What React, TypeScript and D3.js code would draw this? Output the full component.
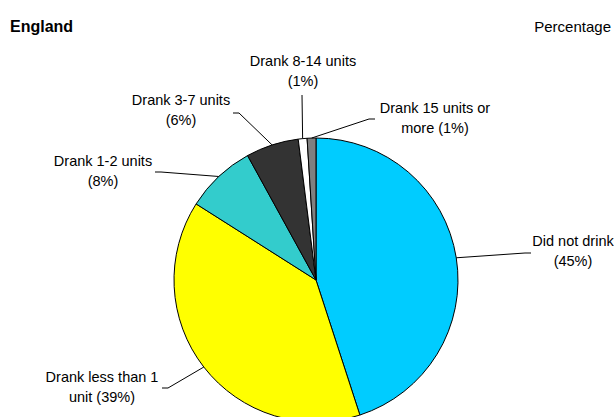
import React from "react";
import * as d3 from "d3";

// Drinking categories, in clockwise order from 12 o'clock
const categories = [
  "Did not drink",
  "Drank less than 1 unit",
  "Drank 1-2 units",
  "Drank 3-7 units",
  "Drank 8-14 units",
  "Drank 15 units or more",
];
const percentages = [45, 39, 8, 6, 1, 1];

// Label text split into the two lines it is printed on
const labelLines = [
  ["Did not drink", "(45%)"],
  ["Drank less than 1", "unit (39%)"],
  ["Drank 1-2 units", "(8%)"],
  ["Drank 3-7 units", "(6%)"],
  ["Drank 8-14 units", "(1%)"],
  ["Drank 15 units or", "more (1%)"],
];

const sliceColors = ["#00CCFF", "#FFFF00", "#33CCCC", "#333333", "#FFFFFF", "#808080"];

// Label placement: text centre x, first baseline y, and leader start point
const labelLayout = [
  { x: 573, y: 246, lx: 531, ly: 253, dir: -1 },
  { x: 102, y: 382, lx: 162, ly: 388, dir: 1 },
  { x: 103, y: 166, lx: 155, ly: 172, dir: 1 },
  { x: 181, y: 105, lx: 233, ly: 113, dir: 1 },
  { x: 303, y: 66, lx: 302, ly: 95, dir: 0 },
  { x: 435, y: 113, lx: 375, ly: 119, dir: -1 },
];

const WIDTH = 614;
const HEIGHT = 417;
const CX = 316;
const CY = 280;
const R = 142;
const FONT = "'Liberation Sans', Arial, sans-serif";

export default function App() {
  const pie = d3
    .pie<number>()
    .sort(null)
    .startAngle(0)
    .endAngle(2 * Math.PI)
    .value((d) => d);
  const arcs = pie(percentages);
  const arcGen = d3.arc<d3.PieArcDatum<number>>().innerRadius(0).outerRadius(R);
  const edgeGen = d3.arc<d3.PieArcDatum<number>>().innerRadius(R).outerRadius(R);

  return (
    <svg
      width={WIDTH}
      height={HEIGHT}
      style={{ position: "absolute", left: 0, top: 0, background: "#fff" }}
      fontFamily={FONT}
    >
      <text x={10} y={31.5} fontSize={16} fontWeight="bold" fill="#000">
        England
      </text>
      <text x={611} y={31.5} fontSize={15} textAnchor="end" fill="#000">
        Percentage
      </text>

      <g transform={`translate(${CX},${CY})`}>
        {arcs.map((a, i) => (
          <path
            key={categories[i]}
            d={arcGen(a) || ""}
            fill={sliceColors[i]}
            stroke="#000"
            strokeWidth={1}
          />
        ))}
      </g>

      {arcs.map((a, i) => {
        const [ex, ey] = edgeGen.centroid(a);
        const L = labelLayout[i];
        const pts: [number, number][] = [[L.lx, L.ly]];
        if (L.dir !== 0) pts.push([L.lx + L.dir * 6, L.ly]);
        pts.push([CX + ex, CY + ey]);
        const line = d3.line()(pts) || "";
        return (
          <g key={"lbl" + i}>
            <path d={line} fill="none" stroke="#000" strokeWidth={1} />
            {labelLines[i].map((t, j) => (
              <text
                key={j}
                x={L.x}
                y={L.y + j * 20}
                fontSize={14.5}
                textAnchor="middle"
                fill="#000"
              >
                {t}
              </text>
            ))}
          </g>
        );
      })}
    </svg>
  );
}
